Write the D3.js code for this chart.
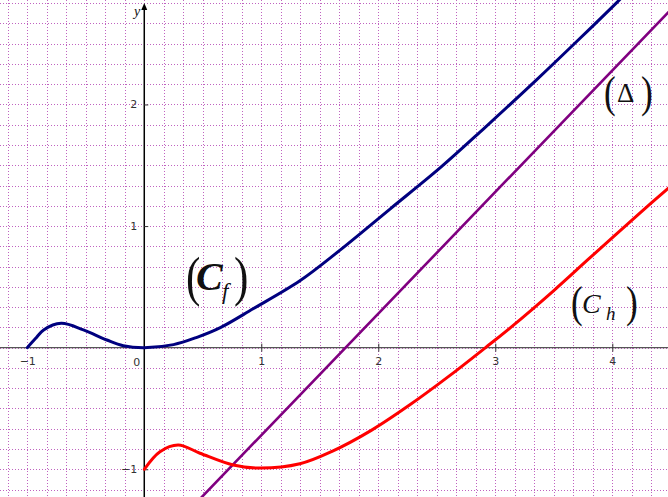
<!DOCTYPE html>
<html>
<head>
<meta charset="utf-8">
<script src="https://cdn.jsdelivr.net/npm/d3@7"></script>
<style>
  body { margin: 0; background: #fff; }
  svg { display: block; }
  .tick text { font-family: "DejaVu Sans", sans-serif; font-size: 11px; fill: #333; }
  .lbl { font-family: "Liberation Serif", "Times New Roman", serif; fill: #111; }
</style>
</head>
<body>
<svg width="668" height="497"></svg>
<script>
// values
var cfX = [-1, -0.93, -0.86, -0.71, -0.52, -0.32, -0.18, 0, 0.25, 0.45, 0.65, 0.93, 1.33, 1.67, 2.1, 2.53, 2.9, 3.35, 3.72, 4.04, 4.6];
var cfY = [0, 0.075, 0.146, 0.2, 0.146, 0.063, 0.016, 0, 0.025, 0.085, 0.165, 0.32, 0.55, 0.8, 1.14, 1.48, 1.8, 2.2, 2.54, 2.84, 3.38];
var chX = [0, 0.134, 0.29, 0.476, 0.76, 0.99, 1.33, 1.6, 1.94, 2.27, 2.61, 2.955, 3.13, 3.5, 3.81, 4.24, 4.5];
var chY = [-1, -0.855, -0.8, -0.868, -0.965, -0.99, -0.955, -0.855, -0.68, -0.47, -0.23, 0.03, 0.165, 0.47, 0.74, 1.11, 1.33];
var deltaX = [0.4, 4.6];
var deltaY = [-1.32, 2.88];
var xTicks = [-1, 1, 2, 3, 4];
var yTicks = [-1, 1, 2];

var svg = d3.select("svg");
var W = 668, H = 497;

var x = d3.scaleLinear().domain([-1.233, 4.476]).range([0, W]);
var y = d3.scaleLinear().domain([-1.228, 2.859]).range([H, 0]);

//dotted grid, one line every 1/6 unit
var gx = d3.range(-7, 27).map(function(k) { return k / 6; });
var gy = d3.range(-7, 18).map(function(k) { return k / 6; });
var grid = svg.append("g").attr("stroke", "#b648b6").attr("stroke-width", 1)
    .attr("stroke-dasharray", "1,2").attr("opacity", 0.85);
grid.selectAll("line.v").data(gx).enter().append("line").attr("class", "v")
    .attr("x1", function(d) { return Math.round(x(d)) + 0.5; })
    .attr("x2", function(d) { return Math.round(x(d)) + 0.5; })
    .attr("y1", 0).attr("y2", H);
grid.selectAll("line.h").data(gy).enter().append("line").attr("class", "h")
    .attr("y1", function(d) { return Math.round(y(d)) + 0.5; })
    .attr("y2", function(d) { return Math.round(y(d)) + 0.5; })
    .attr("x1", 0).attr("x2", W);

//axes
svg.append("line").attr("x1", 0).attr("x2", W).attr("y1", y(0)).attr("y2", y(0))
    .attr("stroke", "#555").attr("stroke-width", 1.3);
svg.append("line").attr("x1", x(0)).attr("x2", x(0)).attr("y1", 6).attr("y2", H)
    .attr("stroke", "#000").attr("stroke-width", 1.5);
svg.append("path").attr("d", "M" + (x(0) - 3) + ",10 L" + x(0) + ",3 L" + (x(0) + 3) + ",10 Z").attr("fill", "#000");

var xAxis = svg.append("g").attr("transform", "translate(0," + y(0) + ")")
    .call(d3.axisBottom(x).tickValues(xTicks).tickSize(4).tickPadding(6)
        .tickFormat(function(d) { return d < 0 ? "\u2212" + (-d) : d; }));
xAxis.select(".domain").remove();
xAxis.selectAll(".tick line").attr("y1", -4).attr("stroke", "#333")
    .filter(function(d) { return d < 0; }).remove();
xAxis.append("text").attr("x", x(0) - 4).attr("y", 18).attr("text-anchor", "end")
    .style("font-family", "DejaVu Sans, sans-serif").style("font-size", "11px")
    .attr("fill", "#333").text("0");

var yAxis = svg.append("g").attr("transform", "translate(" + x(0) + ",0)")
    .call(d3.axisLeft(y).tickValues(yTicks).tickSize(4).tickPadding(3)
        .tickFormat(function(d) { return d < 0 ? "\u2212" + (-d) : d; }));
yAxis.select(".domain").remove();
yAxis.selectAll(".tick line").attr("x2", 4).attr("stroke", "#333");
svg.append("text").attr("x", x(0) - 4).attr("y", 16).attr("text-anchor", "end")
    .attr("class", "lbl").style("font-style", "italic").style("font-size", "14px").text("y");

//curves
var line = d3.line().x(function(d) { return x(d[0]); }).y(function(d) { return y(d[1]); })
    .curve(d3.curveCatmullRom.alpha(0.5));
svg.append("defs").append("clipPath").attr("id", "clip").append("rect")
    .attr("width", W).attr("height", H);
var plot = svg.append("g").attr("clip-path", "url(#clip)").attr("fill", "none")
    .attr("stroke-linecap", "round").attr("stroke-linejoin", "round");

plot.append("path").datum(d3.zip(deltaX, deltaY)).attr("d", line)
    .attr("stroke", "#800080").attr("stroke-width", 2.6);
plot.append("path").datum(d3.zip(cfX, cfY)).attr("d", line)
    .attr("stroke", "#00007f").attr("stroke-width", 3);
plot.append("path").datum(d3.zip(chX, chY)).attr("d", line)
    .attr("stroke", "#ff0000").attr("stroke-width", 3);

//curve names
function paren(px, py, size, ch) {
    svg.append("text").attr("class", "lbl").attr("x", px).attr("y", py)
        .attr("transform", "translate(" + px + "," + py + ") scale(0.8,1) translate(" + (-px) + "," + (-py) + ")")
        .style("font-size", size + "px").text(ch);
}
paren(186, 295, 54, "(");
svg.append("text").attr("class", "lbl").attr("x", 196).attr("y", 290)
    .style("font-size", "40px").style("font-style", "italic").style("font-weight", "bold").text("C");
svg.append("text").attr("class", "lbl").attr("x", 222).attr("y", 299)
    .style("font-size", "23px").style("font-style", "italic").text("f");
paren(234, 295, 54, ")");

paren(604, 107, 44, "(");
svg.append("text").attr("class", "lbl").attr("x", 617).attr("y", 102)
    .style("font-size", "27px").text("\u0394");
paren(641, 107, 44, ")");

paren(571, 317, 44, "(");
svg.append("text").attr("class", "lbl").attr("x", 582).attr("y", 313)
    .style("font-size", "28px").style("font-style", "italic").text("C");
svg.append("text").attr("class", "lbl").attr("x", 606).attr("y", 320)
    .style("font-size", "19px").style("font-style", "italic").text("h");
paren(626, 317, 44, ")");
</script>
</body>
</html>
